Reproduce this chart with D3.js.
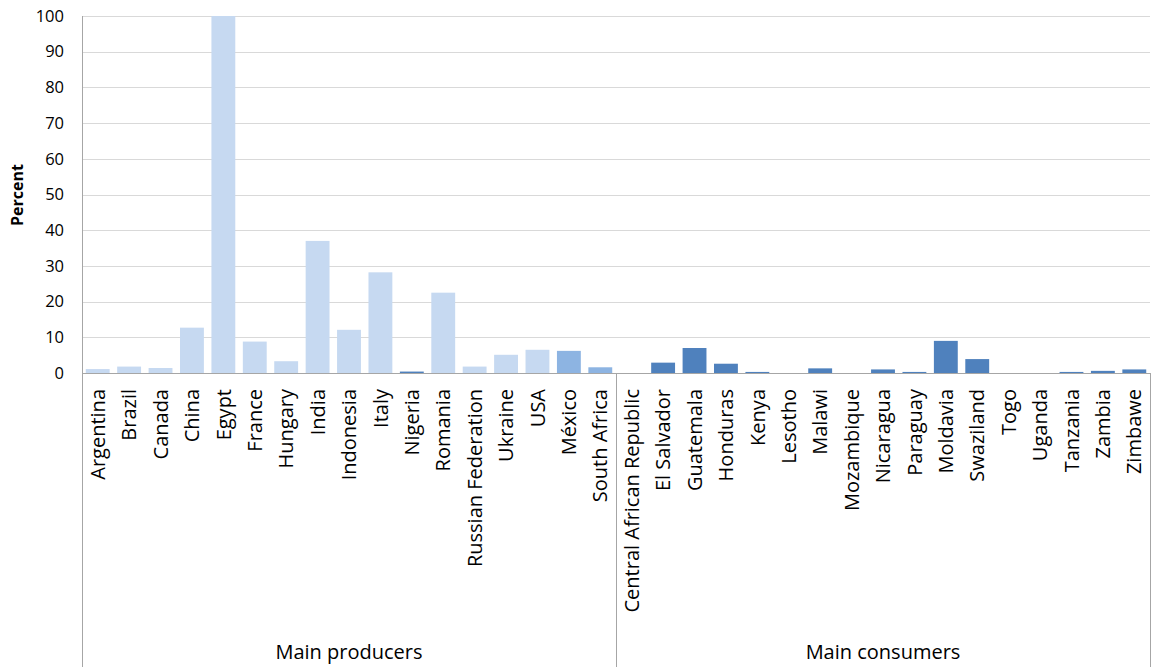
<!DOCTYPE html>
<html>
<head>
<meta charset="utf-8">
<script src="https://cdn.jsdelivr.net/npm/d3@7/dist/d3.min.js"></script>
<style>
  html, body { margin: 0; padding: 0; background: #fff; }
  svg { display: block; }
  text { font-family: "Open Sans", "Noto Sans", sans-serif; fill: #000; }
</style>
</head>
<body>
<svg id="chart" width="1157" height="667"></svg>
<script>
const producers = ["Argentina","Brazil","Canada","China","Egypt","France","Hungary","India","Indonesia","Italy","Nigeria","Romania","Russian Federation","Ukraine","USA","México","South Africa"];
const producerValues = [1.1, 1.8, 1.4, 12.7, 100, 8.8, 3.3, 37.0, 12.1, 28.2, 0.4, 22.5, 1.8, 5.1, 6.5, 6.2, 1.6];
const producerShade = ["light","light","light","light","light","light","light","light","light","light","dark","light","light","light","light","mid","mid"];

const consumers = ["Central African Republic","El Salvador","Guatemala","Honduras","Kenya","Lesotho","Malawi","Mozambique","Nicaragua","Paraguay","Moldavia","Swaziland","Togo","Uganda","Tanzania","Zambia","Zimbawe"];
const consumerValues = [0, 2.9, 7.0, 2.6, 0.3, 0, 1.3, 0, 1.0, 0.3, 9.0, 3.9, 0, 0, 0.3, 0.6, 1.0];

const groups = ["Main producers", "Main consumers"];
const yTicks = [0,10,20,30,40,50,60,70,80,90,100];
const shadeColors = {light: "#C6D9F1", mid: "#8DB4E2", dark: "#4F81BD"};

const data = producers.map((c, i) => ({cat: c, value: producerValues[i], shade: producerShade[i], group: groups[0]}))
  .concat(consumers.map((c, i) => ({cat: c, value: consumerValues[i], shade: "dark", group: groups[1]})));

const svg = d3.select("#chart");
const mLeft = 82, mRight = 1150, mTop = 16, mBottom = 373;

const x = d3.scaleBand().domain(data.map(d => d.cat)).range([mLeft, mRight]).paddingInner(0.24).paddingOuter(0.12);
const y = d3.scaleLinear().domain([0, 100]).range([mBottom, mTop]);

// gridlines
svg.append("g").selectAll("line").data(yTicks.filter(t => t > 0)).join("line")
  .attr("x1", mLeft).attr("x2", mRight)
  .attr("y1", d => Math.round(y(d)) + 0.5).attr("y2", d => Math.round(y(d)) + 0.5)
  .attr("stroke", "#D9D9D9").attr("stroke-width", 1);

// y axis
const yAxis = d3.axisLeft(y).tickValues(yTicks).tickSize(0).tickPadding(18);
const yg = svg.append("g").attr("transform", `translate(${mLeft},0)`).call(yAxis);
yg.select(".domain").remove();
yg.selectAll("text").style("font-size", "16.5px").style("font-family", "'Open Sans', sans-serif").attr("fill", "#000");

// bars
svg.append("g").selectAll("rect").data(data).join("rect")
  .attr("x", d => x(d.cat))
  .attr("width", x.bandwidth())
  .attr("y", d => y(d.value))
  .attr("height", d => y(0) - y(d.value))
  .attr("fill", d => shadeColors[d.shade]);

// axis lines
svg.append("line").attr("x1", mLeft).attr("x2", mRight).attr("y1", mBottom + 0.5).attr("y2", mBottom + 0.5)
  .attr("stroke", "#A6A6A6").attr("stroke-width", 1);
svg.append("line").attr("x1", mLeft + 0.5).attr("x2", mLeft + 0.5).attr("y1", mTop).attr("y2", 667)
  .attr("stroke", "#A6A6A6").attr("stroke-width", 1);

// group dividers
const step = x.step();
const groupBounds = groups.map(g => {
  const cats = data.filter(d => d.group === g).map(d => d.cat);
  const start = x(cats[0]) - x.paddingInner() * step / 2;
  const end = x(cats[cats.length - 1]) + x.bandwidth() + x.paddingInner() * step / 2;
  return {g, start, end};
});
const divX = [groupBounds[0].end, mRight];
svg.append("g").selectAll("line").data(divX).join("line")
  .attr("x1", d => Math.round(d) + 0.5).attr("x2", d => Math.round(d) + 0.5)
  .attr("y1", mBottom).attr("y2", 667)
  .attr("stroke", "#A6A6A6").attr("stroke-width", 1);

// category labels
svg.append("g").selectAll("text").data(data).join("text")
  .attr("transform", d => `translate(${x(d.cat) + x.bandwidth() / 2},389) rotate(-90)`)
  .attr("text-anchor", "end")
  .attr("dy", "0.36em")
  .style("font-size", "20px")
  .text(d => d.cat);

// group labels
svg.append("g").selectAll("text").data([{g: groups[0], a: mLeft, b: groupBounds[0].end}, {g: groups[1], a: groupBounds[0].end, b: mRight}]).join("text")
  .attr("x", d => (d.a + d.b) / 2)
  .attr("y", 659)
  .attr("text-anchor", "middle")
  .style("font-size", "20px")
  .text(d => d.g);

// y title
svg.append("text")
  .attr("transform", "translate(23,195) rotate(-90)")
  .attr("text-anchor", "middle")
  .style("font-size", "16px")
  .style("font-weight", "bold")
  .text("Percent");
</script>
</body>
</html>
